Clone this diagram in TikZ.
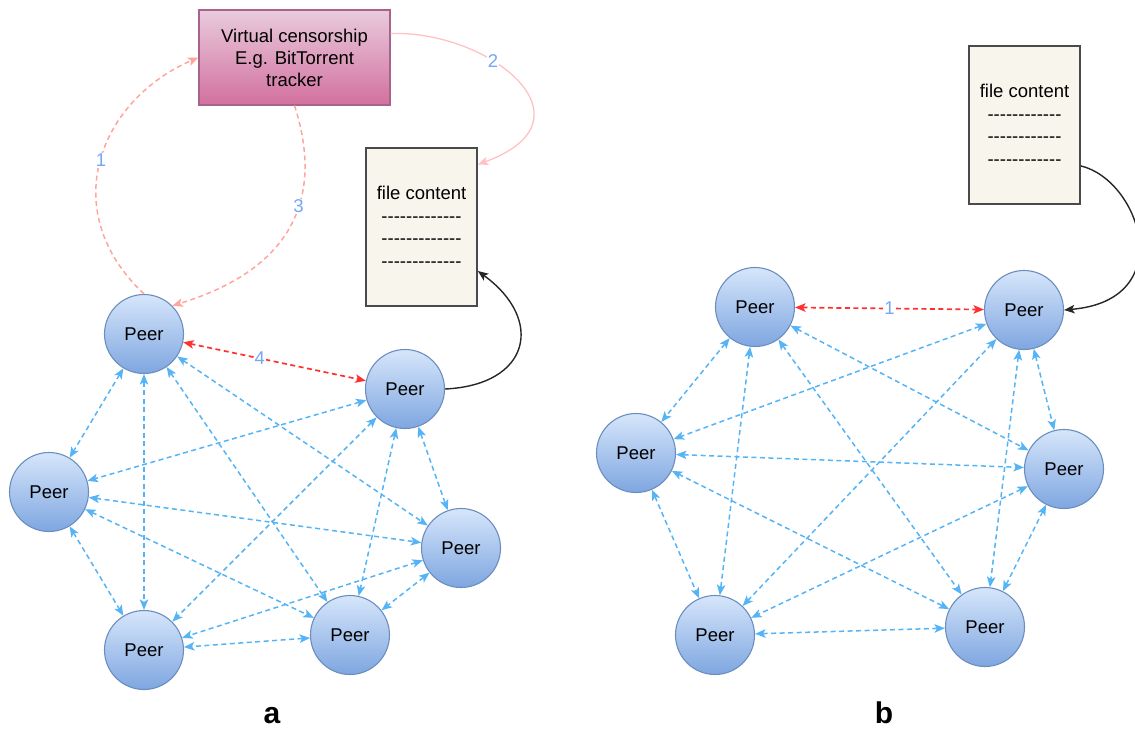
\documentclass[tikz,border=0pt]{standalone}
\usepackage{fontspec}
\setmainfont{Liberation Sans}
\usetikzlibrary{arrows.meta}
\definecolor{edgeblue}{HTML}{55B4F5}
\definecolor{edgered}{HTML}{FF3030}
\definecolor{salmon}{HTML}{FFA59E}
\definecolor{pinkline}{HTML}{FFC2C4}
\definecolor{numblue}{HTML}{74A6FA}
\definecolor{peertop}{HTML}{D6E6FB}
\definecolor{peerbot}{HTML}{7EA6E0}
\definecolor{peerdraw}{HTML}{6C8EBF}
\definecolor{trtop}{HTML}{E9CBDD}
\definecolor{trbot}{HTML}{D2709E}
\definecolor{trdraw}{HTML}{A8638C}
\definecolor{filebg}{HTML}{F8F6EC}
\definecolor{filedraw}{HTML}{4A4A4A}
\newcommand\dsh{-\kern0pt}
\newcommand\dashrowA{\dsh\dsh\dsh\dsh\dsh\dsh\dsh\dsh\dsh\dsh\dsh\dsh\dsh}
\newcommand\dashrowB{\dsh\dsh\dsh\dsh\dsh\dsh\dsh\dsh\dsh\dsh\dsh\dsh}
\tikzset{
  peer/.style={circle, minimum size=79pt, inner sep=0pt, draw=peerdraw, line width=1.1pt,
    top color=peertop, bottom color=peerbot, font=\fontsize{18.5}{20}\selectfont},
  tracker/.style={rectangle, minimum width=191pt, minimum height=95pt, draw=trdraw, line width=1.1pt,
    top color=trtop, bottom color=trbot, align=center, font=\fontsize{18.5}{22}\selectfont},
  filebox/.style={rectangle, minimum width=111pt, minimum height=158pt, draw=filedraw, line width=1.6pt,
    fill=filebg, align=center, font=\fontsize{18.5}{22.5}\selectfont},
  blueedge/.style={draw=edgeblue, line width=1.5pt, dash pattern=on 5pt off 3.5pt, <->},
  rededge/.style={draw=edgered, line width=1.7pt, dash pattern=on 5pt off 3.5pt, <->},
  salmonedge/.style={draw=salmon, line width=1.5pt, dash pattern=on 5pt off 3.5pt, ->},
  pinkedge/.style={draw=pinkline, line width=1.3pt, ->},
  blackedge/.style={draw=black!85, line width=1.4pt, ->},
  numlab/.style={text=numblue, fill=white, inner sep=1pt, font=\fontsize{18.5}{18.5}\selectfont},
  panellab/.style={anchor=base, font=\fontsize{30}{30}\selectfont\bfseries},
}
\begin{document}
\begin{tikzpicture}[x=1pt,y=1pt,>={Stealth[length=10.5pt,width=8.5pt,inset=2.5pt]}]
\useasboundingbox (0,0) rectangle (1135,-731);
% panel a
\node[tracker] (T) at (294.5,-57.5) {Virtual censorship\\E.g. BitTorrent\\tracker};
\node[filebox] (Fa) at (421.5,-227) {file content\\\dashrowA\\\dashrowA\\\dashrowA};
\node[peer] (a1) at (144,-334) {Peer};
\node[peer] (a2) at (405,-389) {Peer};
\node[peer] (a3) at (49,-492) {Peer};
\node[peer] (a4) at (461,-548) {Peer};
\node[peer] (a5) at (350,-635) {Peer};
\node[peer] (a6) at (144,-650) {Peer};
% panel b
\node[filebox] (Fb) at (1024.5,-125) {file content\\\dashrowB\\\dashrowB\\\dashrowB};
\node[peer] (b1) at (755,-307) {Peer};
\node[peer] (b2) at (1024,-310) {Peer};
\node[peer] (b3) at (636,-453) {Peer};
\node[peer] (b4) at (1064,-469) {Peer};
\node[peer] (b5) at (985,-627) {Peer};
\node[peer] (b6) at (715,-635) {Peer};
% mesh edges
\foreach \p in {a,b} {
  \foreach \i/\j in {1/3,1/4,1/5,1/6,2/3,2/4,2/5,2/6,3/4,3/5,3/6,4/5,4/6,5/6}
    \draw[blueedge] (\p\i) -- (\p\j);
}
\draw[rededge] (a1) -- node[numlab, pos=0.42] {4} (a2);
\draw[rededge] (b1) -- node[numlab, pos=0.5] {1} (b2);
% tracker flows
\draw[salmonedge] (a1.north) .. controls (55,-210) and (100,-100) .. node[numlab, pos=0.5] {1} (T.west);
\draw[salmonedge] (T.south) .. controls (325,-200) and (290,-270) .. node[numlab, pos=0.4] {3} (a1.45);
\draw[pinkedge] (T.14) .. controls (490,-30) and (600,-120) .. node[numlab, pos=0.37] {2} (Fa.48);
% file links
\draw[blackedge] (a2.east) .. controls (530,-385) and (545,-320) .. (Fa.-38);
\draw[blackedge] (Fb.-36) .. controls (1140,-180) and (1180,-300) .. (b2.east);
% panel labels
\node[panellab] (la) at (272,-723) {a};
\node[panellab] (lb) at (884,-723) {b};
\end{tikzpicture}
\end{document}
